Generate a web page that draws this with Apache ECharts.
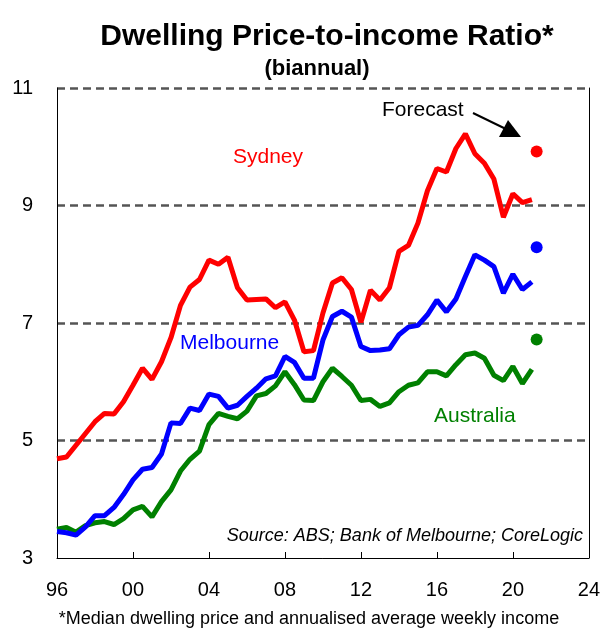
<!DOCTYPE html>
<html>
<head>
<meta charset="utf-8">
<title>Dwelling Price-to-income Ratio</title>
<script src="https://cdn.jsdelivr.net/npm/echarts@6/dist/echarts.min.js"></script>
<style>
html, body { margin: 0; padding: 0; background: #fff; }
#chart { width: 603px; height: 630px; }
</style>
</head>
<body>
<div id="chart"></div>
<script>
// biannual observations, first one at 1996
const startYear = 1996
const step = 0.5

const sydney = [4.69, 4.72, 4.92, 5.12, 5.32, 5.46, 5.45, 5.66, 5.94, 6.23,
  6.04, 6.34, 6.75, 7.30, 7.61, 7.74, 8.07, 8.00, 8.12, 7.60,
  7.39, 7.40, 7.41, 7.26, 7.36, 7.05, 6.51, 6.53, 7.17, 7.68,
  7.77, 7.57, 7.01, 7.56, 7.39, 7.60, 8.22, 8.32, 8.70, 9.25,
  9.63, 9.57, 9.97, 10.22, 9.88, 9.72, 9.45, 8.80, 9.20, 9.05, 9.10]

const melbourne = [3.45, 3.43, 3.39, 3.53, 3.72, 3.72, 3.86, 4.08, 4.33, 4.51,
  4.54, 4.77, 5.30, 5.29, 5.55, 5.51, 5.79, 5.75, 5.55, 5.60,
  5.75, 5.89, 6.05, 6.10, 6.43, 6.33, 6.06, 6.06, 6.71, 7.11,
  7.20, 7.10, 6.60, 6.53, 6.54, 6.56, 6.80, 6.93, 6.96, 7.14,
  7.39, 7.19, 7.41, 7.79, 8.16, 8.07, 7.96, 7.51, 7.83, 7.57, 7.70]

const australia = [3.49, 3.52, 3.44, 3.55, 3.60, 3.62, 3.57, 3.67, 3.82, 3.88,
  3.70, 3.96, 4.16, 4.48, 4.68, 4.82, 5.27, 5.46, 5.41, 5.37,
  5.50, 5.76, 5.80, 5.93, 6.17, 5.95, 5.69, 5.68, 6.00, 6.23,
  6.09, 5.94, 5.68, 5.70, 5.58, 5.64, 5.83, 5.94, 5.98, 6.17,
  6.17, 6.10, 6.29, 6.46, 6.49, 6.40, 6.11, 6.02, 6.26, 5.97, 6.21]

// forecast dots: sydney, melbourne, australia
const forecastYear = 2021.25
const forecast = [9.92, 8.29, 6.72]

const xTicks = [1996, 2000, 2004, 2008, 2012, 2016, 2020, 2024]
const yTicks = [3, 5, 7, 9, 11]

const RED = '#ff0000'
const BLUE = '#0000ff'
const GREEN = '#008000'
const FONT = '"Liberation Sans", Arial, sans-serif'

function toPairs(values) {
  return values.map((v, i) => [startYear + i * step, v])
}

function lineSeries(name, values, color) {
  return {
    name: name,
    type: 'line',
    data: toPairs(values),
    showSymbol: false,
    lineStyle: { color: color, width: 5 },
    itemStyle: { color: color },
    z: 3
  }
}

function dotSeries(name, value, color) {
  return {
    name: name,
    type: 'scatter',
    data: [[forecastYear, value]],
    symbolSize: 12,
    itemStyle: { color: color, opacity: 1 },
    z: 4
  }
}

function label(text, x, y, color, size, extra) {
  return {
    type: 'text',
    x: x,
    y: y,
    style: Object.assign({
      text: text,
      fill: color,
      font: size + 'px ' + FONT,
      textAlign: 'left',
      textVerticalAlign: 'middle'
    }, extra || {})
  }
}

const chart = echarts.init(document.getElementById('chart'))
chart.setOption({
  animation: false,
  backgroundColor: '#fff',
  textStyle: { fontFamily: FONT },
  title: [{
    text: 'Dwelling Price-to-income Ratio*',
    left: 322,
    top: 17,
    textAlign: 'center',
    textStyle: { fontSize: 30, fontWeight: 'bold', color: '#000', fontFamily: FONT }
  }, {
    text: '(biannual)',
    left: 312,
    top: 53,
    textAlign: 'center',
    textStyle: { fontSize: 22, fontWeight: 'bold', color: '#000', fontFamily: FONT }
  }],
  grid: { left: 57, right: 13, top: 88, bottom: 72 },
  xAxis: {
    type: 'value',
    min: xTicks[0],
    max: xTicks[xTicks.length - 1],
    interval: xTicks[1] - xTicks[0],
    axisLine: { show: true, lineStyle: { color: '#000', width: 1 } },
    axisTick: { show: true, inside: true, length: 6, lineStyle: { color: '#000' } },
    axisLabel: {
      margin: 22,
      fontSize: 20,
      color: '#000',
      formatter: v => String(v % 100).padStart(2, '0')
    },
    splitLine: { show: false }
  },
  yAxis: [{
    type: 'value',
    min: yTicks[0],
    max: yTicks[yTicks.length - 1],
    interval: yTicks[1] - yTicks[0],
    axisLine: { show: true, lineStyle: { color: '#000', width: 1 } },
    axisTick: { show: false },
    axisLabel: { margin: 24, fontSize: 20, color: '#000' },
    splitLine: {
      show: true,
      showMinLine: false,
      lineStyle: { color: '#555555', width: 2.5, type: [8, 5] }
    }
  }, {
    type: 'value',
    position: 'right',
    min: yTicks[0],
    max: yTicks[yTicks.length - 1],
    interval: yTicks[1] - yTicks[0],
    axisLine: { show: true, lineStyle: { color: '#000', width: 1 } },
    axisTick: { show: false },
    axisLabel: { show: false },
    splitLine: { show: false }
  }],
  series: [
    lineSeries('Australia', australia, GREEN),
    lineSeries('Melbourne', melbourne, BLUE),
    lineSeries('Sydney', sydney, RED),
    dotSeries('Sydney forecast', forecast[0], RED),
    dotSeries('Melbourne forecast', forecast[1], BLUE),
    dotSeries('Australia forecast', forecast[2], GREEN)
  ],
  graphic: [
    label('Sydney', 233, 157, RED, 21),
    label('Melbourne', 180, 343, BLUE, 21),
    label('Australia', 434, 416, GREEN, 21),
    label('Forecast', 382, 110, '#000', 21),
    label('Source: ABS; Bank of Melbourne; CoreLogic', 583, 536, '#000', 18,
      { textAlign: 'right', font: 'italic 18px ' + FONT }),
    label('*Median dwelling price and annualised average weekly income', 309, 619, '#000', 18,
      { textAlign: 'center' }),
    {
      type: 'line',
      shape: { x1: 473, y1: 113, x2: 508, y2: 130 },
      style: { stroke: '#000', lineWidth: 2 }
    },
    {
      type: 'polygon',
      shape: { points: [[521, 137], [499, 137], [508, 120]] },
      style: { fill: '#000' }
    }
  ]
})
</script>
</body>
</html>
